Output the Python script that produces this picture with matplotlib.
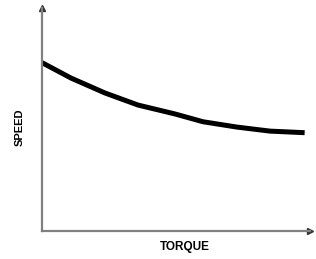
import matplotlib
matplotlib.use("Agg")
from matplotlib import pyplot as plt

# speed-torque curve (arbitrary units)
torque = [0, 10.8, 23.5, 35.8, 49.6, 60.1, 72.8, 85.1, 98]
speed = [75.5, 68.6, 61.9, 56.5, 52.5, 49.0, 46.6, 44.8, 44.1]

fig = plt.figure(figsize=(3.16, 2.59), dpi=100)
ax = fig.add_axes([0.133, 0.108, 0.848, 0.861])

ax.plot(torque, speed, color='black', lw=3.6, solid_capstyle='butt',
        solid_joinstyle='round', clip_on=False)

ax.set_xlim(0, 100)
ax.set_ylim(0, 100)
for s in ['top', 'right']:
    ax.spines[s].set_visible(False)
for s in ['left', 'bottom']:
    ax.spines[s].set_color('#808080')
    ax.spines[s].set_linewidth(1.6)
ax.set_xticks([])
ax.set_yticks([])

# arrow heads at the axis ends
ax.plot(0, 1.0, marker='^', color='#333333', markersize=5, transform=ax.transAxes, clip_on=False)
ax.plot(1.0, 0, marker='>', color='#333333', markersize=5, transform=ax.transAxes, clip_on=False)

fig.text(0.063, 0.51, 'SPEED', rotation=90, ha='center', va='center',
         fontsize=8, fontweight='bold', family='Liberation Sans')
fig.text(0.585, 0.047, 'TORQUE', ha='center', va='center',
         fontsize=8.5, fontweight='bold', family='Liberation Sans')

fig.savefig('out.png', dpi=100)
